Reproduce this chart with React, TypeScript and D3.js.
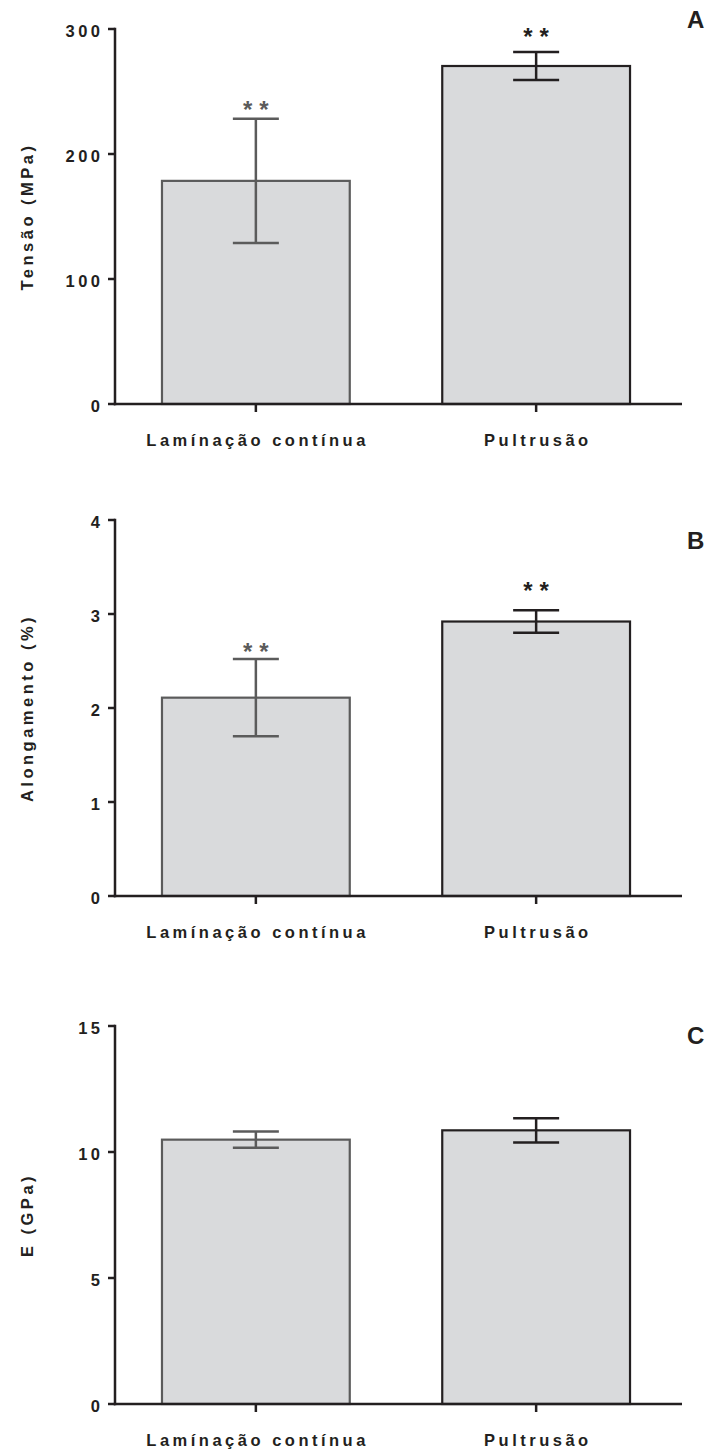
import React from "react";
import * as d3 from "d3";

const categories = ["Lamínação contínua", "Pultrusão"];

const tensaoMean = [178.5, 270.4];
const tensaoErr = [49.7, 11.2];
const tensaoSig = ["**", "**"];
const tensaoSigY = [239, 297];
const tensaoTicks = [0, 100, 200, 300];

const alongMean = [2.11, 2.92];
const alongErr = [0.41, 0.12];
const alongSig = ["**", "**"];
const alongSigY = [2.64, 3.29];
const alongTicks = [0, 1, 2, 3, 4];

const modMean = [10.49, 10.86];
const modErr = [0.32, 0.48];
const modSig = ["", ""];
const modSigY = [0, 0];
const modTicks = [0, 5, 10, 15];

const panels = [
  { title: "Tensão (MPa)", letter: "A", mean: tensaoMean, err: tensaoErr, sig: tensaoSig, sigY: tensaoSigY, ticks: tensaoTicks, max: 300, y0: 404, y1: 29, letterY: 28 },
  { title: "Alongamento (%)", letter: "B", mean: alongMean, err: alongErr, sig: alongSig, sigY: alongSigY, ticks: alongTicks, max: 4, y0: 896, y1: 520, letterY: 549 },
  { title: "E (GPa)", letter: "C", mean: modMean, err: modErr, sig: modSig, sigY: modSigY, ticks: modTicks, max: 15, y0: 1404, y1: 1026, letterY: 1044 },
];

const FONT = "'Liberation Sans', Arial, Helvetica, sans-serif";
const AXIS = "#231f20";
const FILL = "#d9dadc";
const STROKES = ["#5b5b5b", "#231f20"];
const FS = 16.5;
const LS = 3.5;

function Panel({ p }: { p: typeof panels[number] }) {
  const x = d3.scaleBand<string>().domain(categories).range([115, 677]).paddingInner(0.33).paddingOuter(0.1676);
  const y = d3.scaleLinear().domain([0, p.max]).range([p.y0, p.y1]);
  const axisX = 115;
  const capHalf = 23;
  return (
    <g>
      {categories.map((c, i) => {
        const x0 = x(c)!;
        const cx = x0 + x.bandwidth() / 2;
        const top = y(p.mean[i]);
        const eTop = y(p.mean[i] + p.err[i]);
        const eBot = y(p.mean[i] - p.err[i]);
        const col = STROKES[i];
        return (
          <g key={c}>
            <rect x={x0} y={top} width={x.bandwidth()} height={p.y0 - top} fill={FILL} stroke={col} strokeWidth={2.2} />
            <line x1={cx} x2={cx} y1={eTop} y2={eBot} stroke={col} strokeWidth={2.5} />
            <line x1={cx - capHalf} x2={cx + capHalf} y1={eTop} y2={eTop} stroke={col} strokeWidth={2.5} />
            <line x1={cx - capHalf} x2={cx + capHalf} y1={eBot} y2={eBot} stroke={col} strokeWidth={2.5} />
            {p.sig[i] && (
              <text x={cx + 3.5} y={y(p.sigY[i]) + 12.5} textAnchor="middle" fontFamily={FONT} fontWeight="bold" fontSize={24} letterSpacing={7} fill={col}>
                {p.sig[i]}
              </text>
            )}
            <line x1={cx} x2={cx} y1={p.y0} y2={p.y0 + 8} stroke={AXIS} strokeWidth={2.5} />
            <text x={cx + LS / 2} y={p.y0 + 42} textAnchor="middle" fontFamily={FONT} fontWeight="bold" fontSize={FS} letterSpacing={LS} fill={AXIS}>
              {c}
            </text>
          </g>
        );
      })}
      <line x1={axisX} x2={axisX} y1={p.y1 - 1.2} y2={p.y0 + 1.2} stroke={AXIS} strokeWidth={2.5} />
      <line x1={axisX - 1.2} x2={682} y1={p.y0} y2={p.y0} stroke={AXIS} strokeWidth={2.5} />
      {p.ticks.map((t) => (
        <g key={t}>
          <line x1={axisX - 7} x2={axisX} y1={y(t)} y2={y(t)} stroke={AXIS} strokeWidth={2.5} />
          <text x={103.5} y={y(t) + 7.5} textAnchor="end" fontFamily={FONT} fontWeight="bold" fontSize={FS} letterSpacing={LS} fill={AXIS}>
            {t}
          </text>
        </g>
      ))}
      <text transform={`translate(33,${(p.y0 + p.y1) / 2}) rotate(-90)`} textAnchor="middle" fontFamily={FONT} fontWeight="bold" fontSize={FS} letterSpacing={LS} fill={AXIS}>
        {p.title}
      </text>
      <text x={687} y={p.letterY} fontFamily={FONT} fontWeight="bold" fontSize={24} fill={AXIS}>
        {p.letter}
      </text>
    </g>
  );
}

export default function App() {
  return (
    <svg width={724} height={1451} style={{ position: "absolute", left: 0, top: 0, background: "#fff" }}>
      <rect width={724} height={1451} fill="#fff" />
      {panels.map((p) => (
        <Panel key={p.letter} p={p} />
      ))}
    </svg>
  );
}
